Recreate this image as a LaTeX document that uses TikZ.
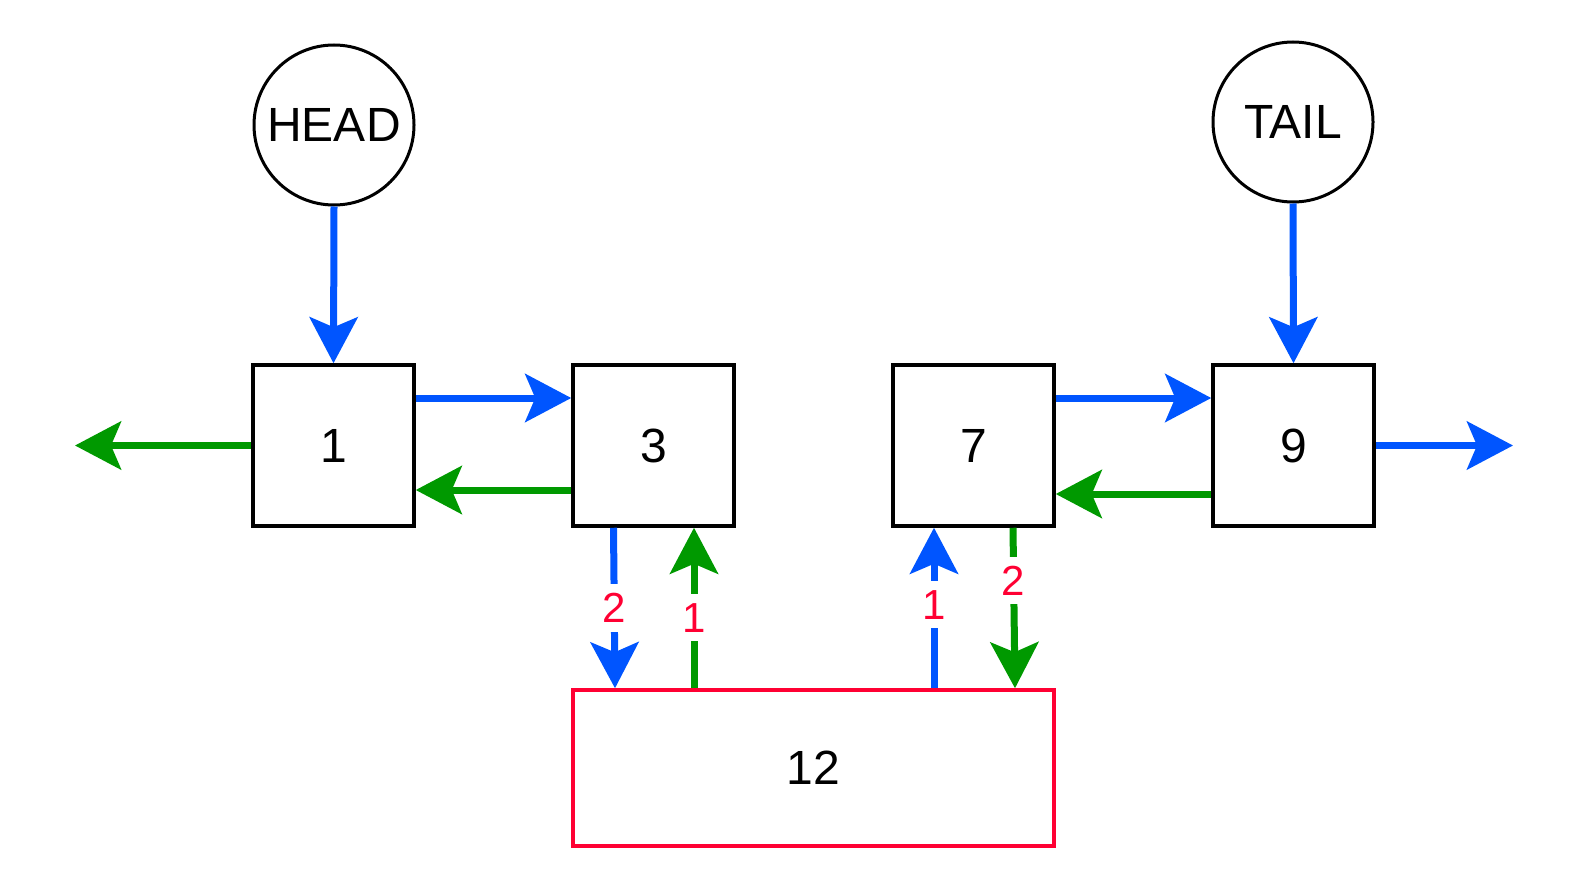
\documentclass[tikz,border=0pt]{standalone}
\usepackage{fontspec}
\setmainfont{Liberation Sans}
\usepackage{tikz}
\usetikzlibrary{
  arrows.meta,
  positioning
}
\definecolor{linkblue}{RGB}{0,85,255}
\definecolor{linkgreen}{RGB}{0,153,0}
\definecolor{newred}{RGB}{255,0,51}

\begin{document}
\begin{tikzpicture}[x=0.5pt, y=-0.5pt,
  box/.style={draw, line width=1.75pt, minimum size=80.5pt, inner sep=0pt,
    font=\fontsize{24}{28}\selectfont},
  ptr/.style={draw, circle, line width=1.5pt, minimum size=80pt, inner sep=0pt,
    font=\fontsize{24}{28}\selectfont},
  tip/.style={-{Stealth[length=23pt, width=24pt, inset=5pt]}},
  nxt/.style={tip, draw=linkblue, fill=linkblue, line width=3.5pt},
  prv/.style={tip, draw=linkgreen, fill=linkgreen, line width=3.5pt},
  stp/.style={fill=white, text=newred, inner xsep=1.5pt, inner ysep=4.5pt,
    font=\fontsize{21}{24}\selectfont}
]
  \useasboundingbox (0,0) rectangle (1588,888);

  % Pointers
  \node[ptr] (head) at (334,125) {HEAD};
  \node[ptr] (tail) at (1293,122) {TAIL};

  % List nodes
  \node[box] (n1) at (333.5,445.5) {1};
  \node[box] (n3) at (653.5,445.5) {3};
  \node[box] (n7) at (973.5,445.5) {7};
  \node[box] (n9) at (1293.5,445.5) {9};

  % New node
  \node[box, draw=newred, minimum width=240.5pt, minimum height=78pt] (n12)
    at (813.5,768) {12};

  % Free ends
  \coordinate (lend) at (75,445.5);
  \coordinate (rend) at (1513,445.5);

  % Head and tail links
  \draw[nxt] (head.south) -- (n1.north);
  \draw[nxt] (tail.south) -- (n9.north);

  % next / prev links
  \draw[nxt] ([yshift=23.75pt]n1.east) -- ([yshift=23.75pt]n3.west);
  \draw[prv] ([yshift=-22.25pt]n3.west) -- ([yshift=-22.25pt]n1.east);
  \draw[nxt] ([yshift=23.75pt]n7.east) -- ([yshift=23.75pt]n9.west);
  \draw[prv] ([yshift=-24.25pt]n9.west) -- ([yshift=-24.25pt]n7.east);
  \draw[prv] (n1.west) -- (lend);
  \draw[nxt] (n9.east) -- (rend);

  % Insert steps
  \draw[nxt] ([xshift=-20pt]n3.south) -- ([xshift=-99.25pt]n12.north)
    node[stp, pos=0.5] {2};
  \draw[prv] ([xshift=-59.75pt]n12.north) -- ([xshift=20.25pt]n3.south)
    node[stp, pos=0.44] {1};
  \draw[nxt] ([xshift=60.25pt]n12.north) -- ([xshift=-19.75pt]n7.south)
    node[stp, pos=0.52] {1};
  \draw[prv] ([xshift=19.75pt]n7.south) -- ([xshift=100.75pt]n12.north)
    node[stp, pos=0.33] {2};
\end{tikzpicture}
\end{document}
